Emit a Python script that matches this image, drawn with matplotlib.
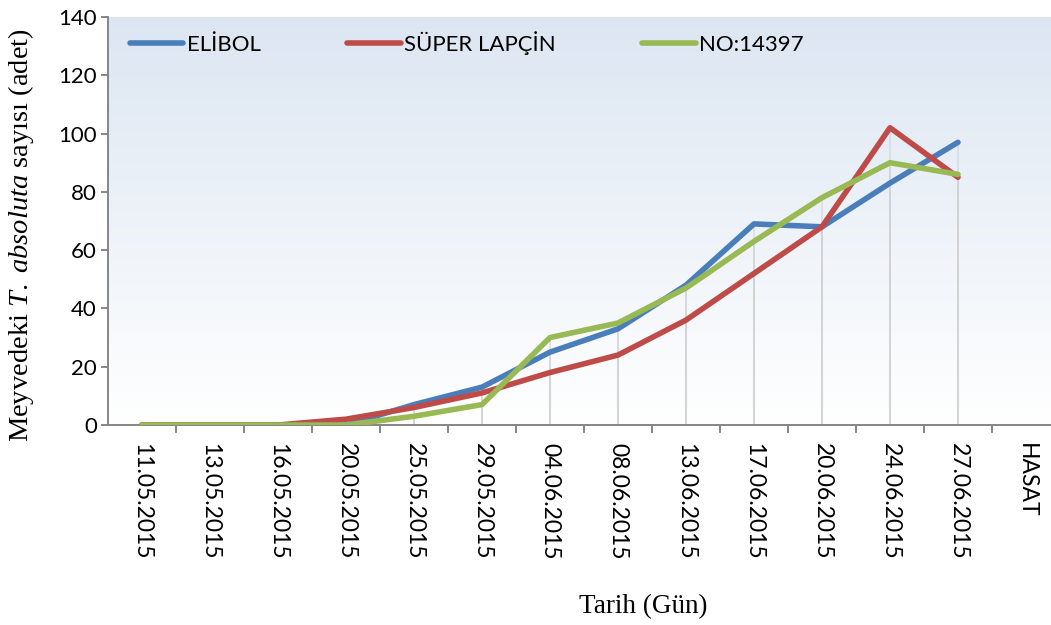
import numpy as np
import matplotlib
matplotlib.use("Agg")
import matplotlib.pyplot as plt
from matplotlib.ticker import FixedLocator

# data
dates = ["11.05.2015", "13.05.2015", "16.05.2015", "20.05.2015", "25.05.2015",
         "29.05.2015", "04.06.2015", "08.06.2015", "13.06.2015", "17.06.2015",
         "20.06.2015", "24.06.2015", "27.06.2015", "HASAT"]
elibol = [0, 0, 0, 0, 7, 13, 25, 33, 48, 69, 68, 83, 97]
super_lapcin = [0, 0, 0, 2, 6, 11, 18, 24, 36, 52, 68, 102, 85]
no14397 = [0, 0, 0, 0, 3, 7, 30, 35, 47, 63, 78, 90, 86]

series = [("ELİBOL", elibol, "#4a7ebb"),
          ("SÜPER LAPÇİN", super_lapcin, "#be4b48"),
          ("NO:14397", no14397, "#98b954")]

W, H = 1051, 625
plt.rcParams['font.family'] = ['Lato', 'DejaVu Sans']
plt.rcParams['mathtext.fontset'] = 'custom'
plt.rcParams['mathtext.rm'] = 'Liberation Serif'
plt.rcParams['mathtext.it'] = 'Liberation Serif:italic'

fig = plt.figure(figsize=(W / 100, H / 100), dpi=100)
ax = fig.add_axes([108 / W, 1 - 425 / H, (W - 108) / W, (425 - 17) / H])

# gradient plot area
grad = np.linspace(0, 1, 256).reshape(-1, 1)
top = np.array([220, 230, 242]) / 255.0
bot = np.array([255, 255, 255]) / 255.0
img = top[None, None, :] * (1 - grad[:, :, None]) + bot[None, None, :] * grad[:, :, None]
ax.imshow(img, extent=[0, 1, 0, 1], transform=ax.transAxes, aspect='auto', zorder=0)

x = np.arange(len(elibol))
for name, vals, col in series:
    ax.vlines(x, 0, vals, color="#cfcfcf", lw=1.2, alpha=0.6, zorder=1)
for name, vals, col in series:
    ax.plot(x, vals, color=col, lw=4, solid_capstyle='round',
            solid_joinstyle='round', label=name, zorder=3)

ax.set_ylim(0, 140)
ax.set_xlim(-0.5, -0.5 + (W - 108) / 68)
ax.set_yticks(np.arange(0, 141, 20))
ax.set_xticks(np.arange(len(dates)))
ax.set_xticklabels(dates, rotation=270, fontsize=16.5)
ax.xaxis.set_minor_locator(FixedLocator(np.arange(len(dates)) + 0.5))
ax.tick_params(axis='x', which='major', length=0, pad=13)
ax.tick_params(axis='x', which='minor', length=6, width=1.4, color="#868686")
ax.tick_params(axis='y', length=5, width=1.4, color="#868686", labelsize=16, pad=3)

for s in ['top', 'right']:
    ax.spines[s].set_visible(False)
for s in ['left', 'bottom']:
    ax.spines[s].set_color("#868686")
    ax.spines[s].set_linewidth(1.4)

ax.set_ylabel(r"Meyvedeki $T.\ absoluta$ sayısı (adet)", family="Liberation Serif",
              fontsize=20.5)
ax.yaxis.set_label_coords(-(108 - 36) / (W - 108), (425 - 235) / 408)
fig.text(643 / W, 1 - 607 / H, "Tarih (Gün)", family="Liberation Serif",
         fontsize=19.5, ha='center', va='center')

leg = ax.legend(loc='center left', bbox_to_anchor=(130 / W, 1 - 43 / H),
                bbox_transform=fig.transFigure, ncol=3, frameon=False,
                fontsize=16, handlelength=2.4, handletextpad=0.15,
                columnspacing=3.9, borderpad=0, borderaxespad=0)

fig.savefig("out.png", dpi=100)
